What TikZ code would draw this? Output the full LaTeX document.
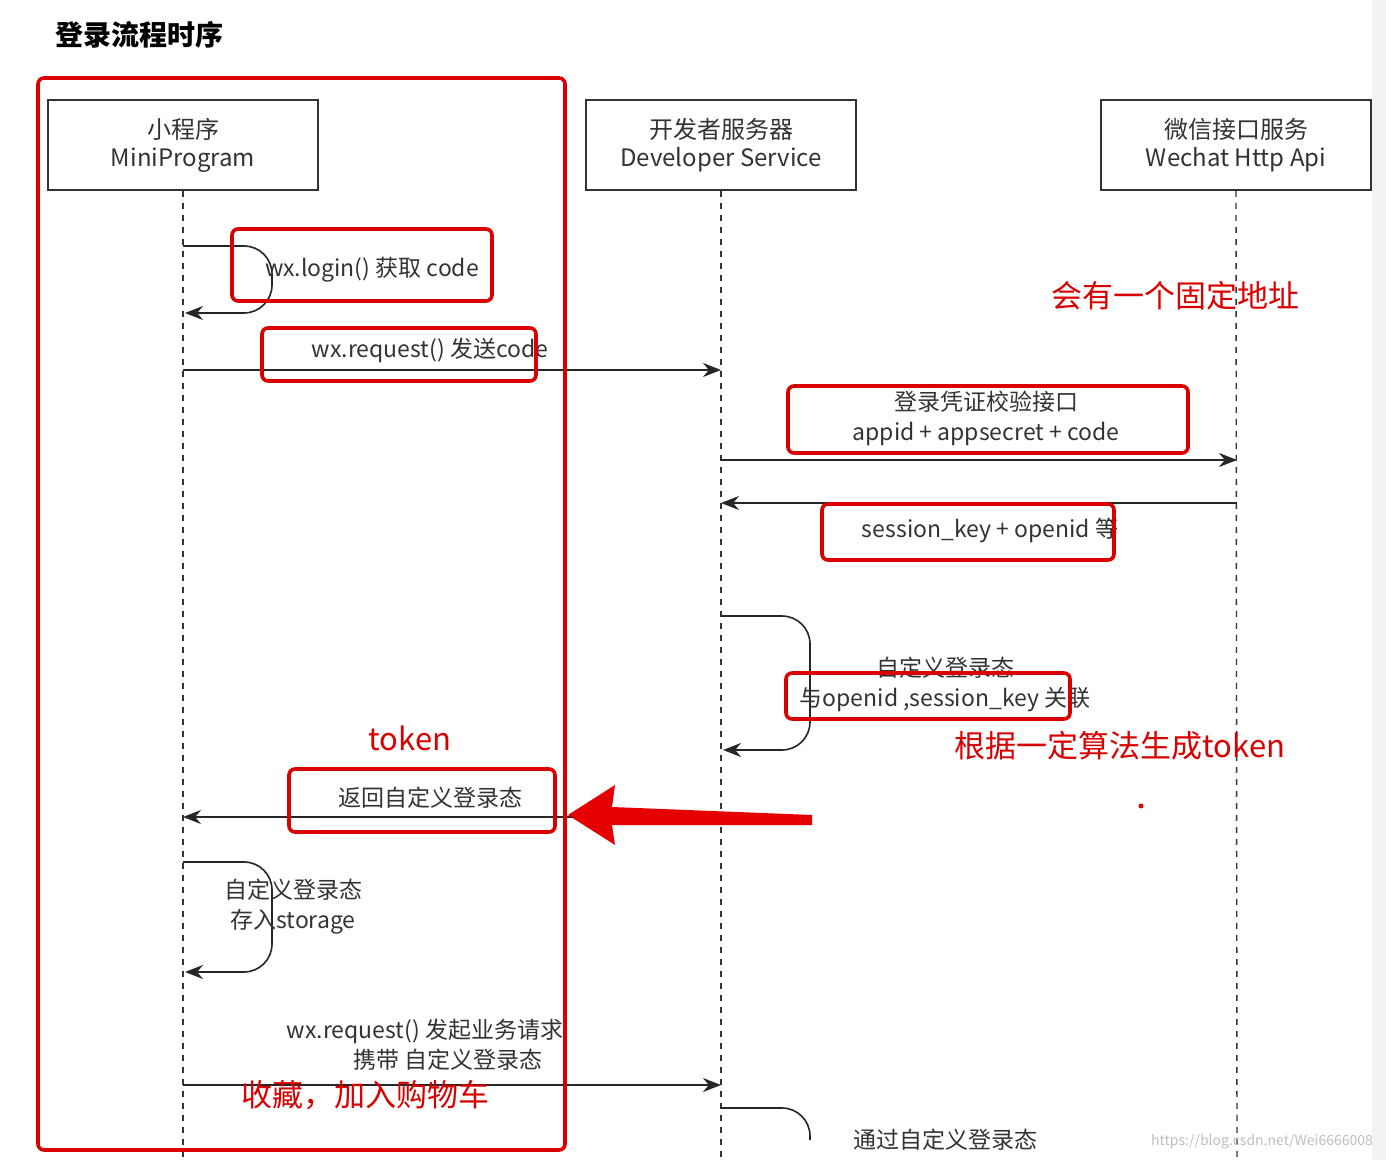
\documentclass[tikz,border=0pt]{standalone}
\usepackage{fontspec}
\setmainfont{Noto Sans CJK SC}
\usetikzlibrary{arrows.meta}
\begin{document}
\begin{tikzpicture}[x=0.5pt,y=-0.5pt,
  actor/.style={draw=black!80,line width=0.9pt,minimum width=135pt,minimum height=45pt,align=center,font=\fontsize{12}{14}\selectfont,text=black!80},
  life/.style={dashed,line width=0.7pt,black!80},
  msg/.style={line width=0.8pt,black!85,-{Stealth[length=9pt,width=7pt]}},
  lab/.style={font=\fontsize{11.5}{15}\selectfont,text=black!80,align=center},
  rbox/.style={draw=red!85!black,line width=1.8pt,rounded corners=3pt},
  rtxt/.style={text=red!85!black,font=\fontsize{15.5}{18}\selectfont}]
\useasboundingbox (0,0) rectangle (1386,1160);
\fill[white] (0,0) rectangle (1386,1160);
\fill[black!5] (1372,0) rectangle (1386,1160);
\node[font=\bfseries\fontsize{14}{16}\selectfont,anchor=west] (title) at (48,35) {登录流程时序};
\node[actor] (mp) at (183,145) {小程序\\MiniProgram};
\node[actor] (ds) at (721,145) {开发者服务器\\Developer Service};
\node[actor] (wx) at (1236,145) {微信接口服务\\Wechat Http Api};
\coordinate (mpE) at (183,1160); \coordinate (dsE) at (721,1160); \coordinate (wxE) at (1237,1160);
\draw[life] (mp.south) -- (mpE);
\draw[life] (ds.south) -- (dsE);
\draw[life] (wx.south) -- (wxE);
% self loop 1
\coordinate (a1) at (183,246); \coordinate (a2) at (185,313);
\draw[msg,rounded corners=14pt] (a1) -- (272,246) -- (272,313) -- (a2);
\node[lab] (l1) at (372,270) {wx.login() 获取 code};
% request
\coordinate (b1) at (183,370); \coordinate (b2) at (721,370);
\draw[msg] (b1) -- (b2);
\node[lab] (l2) at (430,350) {wx.request() 发送code};
% check
\coordinate (c1) at (721,460); \coordinate (c2) at (1237,460);
\draw[msg] (c1) -- (c2);
\node[lab] (l3) at (986,418) {登录凭证校验接口\\appid + appsecret + code};
\coordinate (d1) at (1237,503); \coordinate (d2) at (721,503);
\draw[msg] (d1) -- (d2);
\node[lab] (l4) at (990,530) {session\_key + openid 等};
% self loop 2
\coordinate (e1) at (721,616); \coordinate (e2) at (723,750);
\draw[msg,rounded corners=14pt] (e1) -- (810,616) -- (810,750) -- (e2);
\node[lab] (l5) at (945,684) {自定义登录态\\与openid ,session\_key 关联};
% return
\coordinate (f1) at (721,817); \coordinate (f2) at (183,817);
\draw[msg] (f1) -- (f2);
\node[lab] (l6) at (430,798) {返回自定义登录态};
% self loop 3
\coordinate (g1) at (183,862); \coordinate (g2) at (185,972);
\draw[msg,rounded corners=14pt] (g1) -- (272,862) -- (272,972) -- (g2);
\node[lab] (l7) at (293,907) {自定义登录态\\存入storage};
% business
\coordinate (h1) at (183,1085); \coordinate (h2) at (721,1085);
\draw[msg] (h1) -- (h2);
\node[lab] (l8) at (425,1045) {wx.request() 发起业务请求\\\hspace*{2em}携带 自定义登录态};
\coordinate (i1) at (721,1108);
\draw[line width=0.8pt,black!85,rounded corners=14pt] (i1) -- (810,1108) -- (810,1140);
\node[lab] (l9) at (945,1140) {通过自定义登录态};
% red annotations
\draw[rbox] (38,78) rectangle (565,1150);
\draw[rbox] (232,229) rectangle (492,301);
\draw[rbox] (262,328) rectangle (536,381);
\draw[rbox] (788,386) rectangle (1188,453);
\draw[rbox] (822,504) rectangle (1114,560);
\draw[rbox] (786,673) rectangle (1070,719);
\draw[rbox] (289,769) rectangle (555,832);
\node[rtxt] (t1) at (1175,296) {会有一个固定地址};
\node[rtxt] (t2) at (410,738) {token};
\node[rtxt] (t3) at (1120,746) {根据一定算法生成token};
\node[rtxt] (t4) at (365,1095) {收藏，加入购物车};
\fill[red!85!black] (1141,806) circle (2.5);
\fill[red!90!black] (568,815) -- (615,785) -- (612,807) -- (812,815) -- (812,825) -- (612,825) -- (615,845) -- cycle;
\node[text=black!25,font=\fontsize{7}{8}\selectfont,anchor=east] (wm) at (1380,1142) {https://blog.csdn.net/Wei6666008};
\end{tikzpicture}
\end{document}
